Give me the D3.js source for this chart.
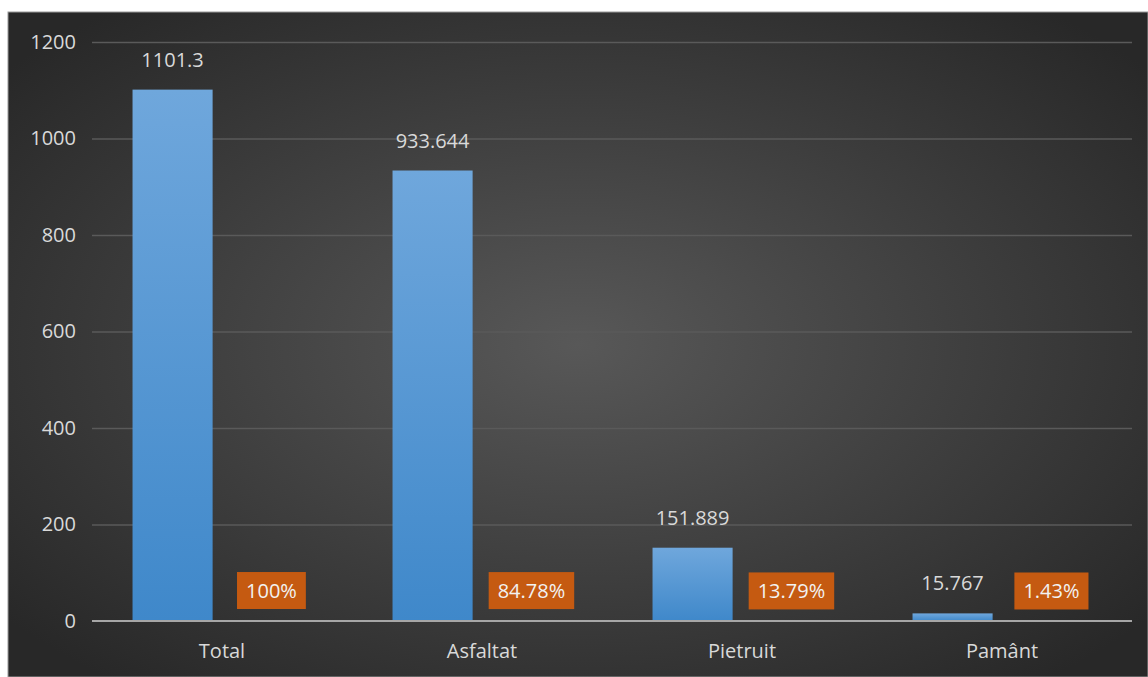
<!DOCTYPE html>
<html><head><meta charset="utf-8">
<script src="https://cdn.jsdelivr.net/npm/d3@7"></script>
<style>html,body{margin:0;padding:0;background:#fff;}svg{display:block;}</style>
</head><body>
<svg id="c" width="1148" height="677"></svg>
<script>
const categories = ["Total", "Asfaltat", "Pietruit", "Pamânt"];
const lengths = [1101.3, 933.644, 151.889, 15.767];
const lengthLabels = ["1101.3", "933.644", "151.889", "15.767"];
const shares = [1.0, 0.8478, 0.1379, 0.0143];
const shareLabels = ["100%", "84.78%", "13.79%", "1.43%"];
const yTicks = [0, 200, 400, 600, 800, 1000, 1200];

(function () {
const svg = d3.select("#c");
const W = 1148, H = 677;
const font = "'Open Sans', 'Noto Sans', sans-serif";
const fs = 20;

const defs = svg.append("defs");
const bg = defs.append("radialGradient").attr("id", "bg")
  .attr("cx", "50%").attr("cy", "50%").attr("r", "65%");
bg.append("stop").attr("offset", "0%").attr("stop-color", "#585858");
bg.append("stop").attr("offset", "100%").attr("stop-color", "#282828");
const barG = defs.append("linearGradient").attr("id", "bar")
  .attr("x1", 0).attr("y1", 0).attr("x2", 0).attr("y2", 1);
barG.append("stop").attr("offset", "0%").attr("stop-color", "#6fa7dc");
barG.append("stop").attr("offset", "100%").attr("stop-color", "#3f88ca");

svg.append("rect").attr("x", 8).attr("y", 12).attr("width", W - 8).attr("height", H - 12)
  .attr("fill", "url(#bg)").attr("stroke", "#9a9a9a").attr("stroke-width", 1);

const pL = 92, pR = 1132, pT = 42, pB = 621;
const y = d3.scaleLinear().domain([0, 1200]).range([pB, pT]);
const x = d3.scaleBand().domain(categories).range([pL, pR]).paddingInner(0).paddingOuter(0);
const inner = d3.scaleBand().domain(["len", "pct"]).range([0, x.bandwidth()]).paddingInner(0.19).paddingOuter(0.41);

const yAxis = d3.axisLeft(y).tickValues(yTicks).tickFormat(d3.format("d")).tickSize(-(pR - pL)).tickPadding(16);
const gy = svg.append("g").attr("transform", `translate(${pL},0)`).call(yAxis);
gy.select(".domain").remove();
gy.selectAll(".tick line").attr("stroke", "#5a5a5a").attr("stroke-width", 1.5);
gy.selectAll(".tick text").attr("fill", "#d9d9d9").attr("font-size", fs).attr("font-family", font);
gy.selectAll(".tick").filter(d => d === 0).select("line").attr("stroke", "none");

svg.append("g").selectAll("rect").data(categories).join("rect")
  .attr("x", d => x(d) + inner("len"))
  .attr("y", (d, i) => y(lengths[i]))
  .attr("width", inner.bandwidth())
  .attr("height", (d, i) => y(0) - y(lengths[i]))
  .attr("fill", "url(#bar)");

svg.append("g").selectAll("rect").data(categories).join("rect")
  .attr("x", d => x(d) + inner("pct"))
  .attr("y", (d, i) => y(shares[i]) - 0.5)
  .attr("width", inner.bandwidth())
  .attr("height", (d, i) => y(0) - y(shares[i]) + 0.5)
  .attr("fill", "#c55a11").attr("opacity", 0.6);

svg.append("line").attr("x1", pL).attr("x2", pR).attr("y1", y(0)).attr("y2", y(0))
  .attr("stroke", "#a6a6a6").attr("stroke-width", 2);

svg.append("g").selectAll("text").data(categories).join("text")
  .attr("x", d => x(d) + inner("len") + inner.bandwidth() / 2)
  .attr("y", (d, i) => y(lengths[i]) - 23)
  .attr("text-anchor", "middle")
  .attr("fill", "#d9d9d9").attr("font-size", fs).attr("font-family", font)
  .text((d, i) => lengthLabels[i]);

const pg = svg.append("g").selectAll("g").data(categories).join("g")
  .attr("transform", (d, i) => `translate(${x(d) + inner("pct") + inner.bandwidth() / 2},${y(shares[i]) - 30})`);
pg.append("text").attr("text-anchor", "middle").attr("dy", "0.35em")
  .attr("fill", "#f2f2f2").attr("font-size", fs).attr("font-family", font)
  .text((d, i) => shareLabels[i]);
pg.each(function () {
  const g = d3.select(this);
  const bb = g.select("text").node().getBBox();
  g.insert("rect", "text").attr("x", bb.x - 9).attr("y", -18.5).attr("width", bb.width + 18).attr("height", 37)
    .attr("fill", "#c55a11");
});

const xAxis = d3.axisBottom(x).tickSize(0).tickPadding(23);
const gx = svg.append("g").attr("transform", `translate(0,${pB})`).call(xAxis);
gx.select(".domain").remove();
gx.selectAll(".tick text").attr("fill", "#d9d9d9").attr("font-size", fs).attr("font-family", font);
})();
</script>
</body></html>
